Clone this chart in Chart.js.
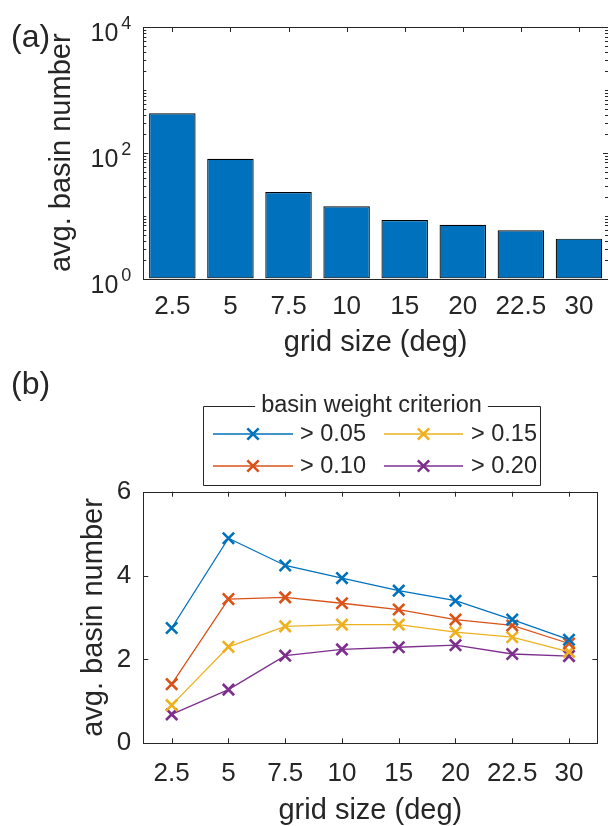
<!DOCTYPE html>
<html><head><meta charset="utf-8">
<script src="https://cdn.jsdelivr.net/npm/chart.js@4/dist/chart.umd.min.js"></script>
<style>
html,body{margin:0;padding:0;background:#fff;overflow:hidden;width:608px;height:826px;}
#a{position:absolute;left:0;top:0;width:608px;height:370px;}
#b{position:absolute;left:0;top:370px;width:608px;height:466px;}
canvas{display:block;}
</style></head><body>
<div id="a"><canvas id="ca" width="608" height="370"></canvas></div>
<div id="b"><canvas id="cb" width="608" height="466"></canvas></div>
<script>
// ---- data ----
const categories = ['2.5','5','7.5','10','15','20','22.5','30'];
const basinCounts = [423, 80.4, 23.8, 14.1, 8.5, 7.15, 5.83, 4.3];
const logTickExponents = [0, 2, 4];
const seriesLabels = ['> 0.05','> 0.10','> 0.15','> 0.20'];
const crit005 = [2.75, 4.89, 4.24, 3.94, 3.64, 3.40, 2.95, 2.47];
const crit010 = [1.41, 3.44, 3.48, 3.34, 3.19, 2.95, 2.81, 2.38];
const crit015 = [0.91, 2.30, 2.79, 2.83, 2.83, 2.65, 2.53, 2.18];
const crit020 = [0.69, 1.28, 2.09, 2.24, 2.29, 2.34, 2.13, 2.08];
const linearTicks = [0, 2, 4, 6];
const legendTitle = 'basin weight criterion';
const xTitle = 'grid size (deg)';
const yTitle = 'avg. basin number';
const colors = ['#0072BD', '#D95319', '#EDB120', '#7E2F8E'];

const AX = '#262626';
const FONT = "'Liberation Sans', Arial, Helvetica, sans-serif";
Chart.defaults.font.family = FONT;
Chart.defaults.color = AX;
Chart.defaults.animation = false;

function drawBox(ctx, ca) {
  ctx.save();
  ctx.strokeStyle = AX; ctx.lineWidth = 1;
  const l = Math.round(ca.left) + 0.5, t = Math.round(ca.top) + 0.5;
  const r = Math.round(ca.right) + 0.5, b = Math.round(ca.bottom) + 0.5;
  ctx.strokeRect(l, t, r - l, b - t);
  ctx.restore();
}
function hTick(ctx, x, y0, y1) { ctx.beginPath(); ctx.moveTo(Math.round(x)+0.5, y0); ctx.lineTo(Math.round(x)+0.5, y1); ctx.stroke(); }
function vTick(ctx, y, x0, x1) { ctx.beginPath(); ctx.moveTo(x0, Math.round(y)+0.5); ctx.lineTo(x1, Math.round(y)+0.5); ctx.stroke(); }

// ---- top chart ----
const topPlugin = {
  id: 'topDeco',
  afterDraw(chart) {
    const ctx = chart.ctx, ca = chart.chartArea;
    const xs = chart.scales.x, ys = chart.scales.y;
    drawBox(ctx, ca);
    ctx.save();
    ctx.strokeStyle = AX; ctx.lineWidth = 1;
    categories.forEach((c, i) => {
      const x = xs.getPixelForValue(i);
      hTick(ctx, x, ca.top, ca.top + 5);
    });
    for (let k = 0; k < 4; k++) {
      for (let m = 1; m <= 9; m++) {
        const v = m * Math.pow(10, k);
        const y = ys.getPixelForValue(v);
        const major = (m === 1 && k % 2 === 0);
        const len = major ? 5 : 3;
        vTick(ctx, y, ca.left, ca.left + len);
        vTick(ctx, y, ca.right - len, ca.right);
      }
    }
    // log tick labels 10^e
    ctx.fillStyle = AX;
    ctx.textBaseline = 'alphabetic';
    logTickExponents.forEach(e => {
      const y = ys.getPixelForValue(Math.pow(10, e));
      const sup = String(e);
      ctx.font = '18px ' + FONT;
      const sw = ctx.measureText(sup).width;
      const rightEdge = ca.left - 12;
      ctx.textAlign = 'right';
      ctx.fillText(sup, rightEdge, y + 2);
      ctx.font = '25px ' + FONT;
      ctx.fillText('10', rightEdge - sw - 3, y + 14);
    });
    // panel label
    ctx.font = '32px ' + FONT;
    ctx.textAlign = 'left';
    ctx.textBaseline = 'middle';
    ctx.fillText('(a)', 11, 38);
    ctx.restore();
  }
};

new Chart(document.getElementById('ca'), {
  type: 'bar',
  data: {
    labels: categories,
    datasets: [{
      data: basinCounts,
      backgroundColor: colors[0],
      borderColor: '#000000',
      borderWidth: 1.2,
      borderSkipped: false,
      barPercentage: 0.8,
      categoryPercentage: 1.0
    }]
  },
  options: {
    responsive: false,
    devicePixelRatio: 1,
    layout: { padding: { top: 27, left: 0, right: 0, bottom: 0 } },
    plugins: { legend: { display: false }, tooltip: { enabled: false } },
    scales: {
      x: {
        offset: true,
        grid: { display: false, drawTicks: false },
        border: { display: false },
        ticks: { font: { size: 26 }, padding: 13, color: AX, maxRotation: 0 },
        title: { display: true, text: xTitle, font: { size: 29 }, color: AX, padding: { top: 0, bottom: 10 } },
        afterFit(s) { s.height = 91.5; }
      },
      y: {
        type: 'logarithmic',
        min: 1, max: 10000,
        grid: { display: false, drawTicks: false },
        border: { display: false },
        ticks: { display: false },
        title: { display: true, text: yTitle, font: { size: 29 }, color: AX, padding: { top: 45, bottom: 0 } },
        afterFit(s) { s.width = 143.3; }
      }
    }
  },
  plugins: [topPlugin]
});

// ---- bottom chart ----
const series = [crit005, crit010, crit015, crit020];

const botPlugin = {
  id: 'botDeco',
  afterDraw(chart) {
    const ctx = chart.ctx, ca = chart.chartArea;
    const xs = chart.scales.x, ys = chart.scales.y;
    drawBox(ctx, ca);
    ctx.save();
    ctx.strokeStyle = AX; ctx.lineWidth = 1;
    categories.forEach((c, i) => {
      const x = xs.getPixelForValue(i);
      hTick(ctx, x, ca.top, ca.top + 5);
      hTick(ctx, x, ca.bottom - 5, ca.bottom);
    });
    linearTicks.forEach(v => {
      const y = ys.getPixelForValue(v);
      vTick(ctx, y, ca.left, ca.left + 5);
      vTick(ctx, y, ca.right - 5, ca.right);
    });
    // legend
    const bx0 = 203, bx1 = 540, by0 = 36, by1 = 115;
    ctx.font = '23.5px ' + FONT;
    const tw = ctx.measureText(legendTitle).width;
    const cx = (bx0 + bx1) / 2;
    ctx.fillStyle = '#ffffff';
    ctx.fillRect(bx0, by0, bx1 - bx0, by1 - by0);
    ctx.strokeStyle = AX;
    ctx.lineWidth = 1;
    ctx.beginPath();
    ctx.moveTo(cx - tw / 2 - 6, by0 + 0.5);
    ctx.lineTo(bx0 + 0.5, by0 + 0.5);
    ctx.lineTo(bx0 + 0.5, by1 + 0.5);
    ctx.lineTo(bx1 + 0.5, by1 + 0.5);
    ctx.lineTo(bx1 + 0.5, by0 + 0.5);
    ctx.lineTo(cx + tw / 2 + 6, by0 + 0.5);
    ctx.stroke();
    ctx.fillStyle = AX;
    ctx.textAlign = 'center';
    ctx.textBaseline = 'middle';
    ctx.fillText(legendTitle, cx, by0);
    const cols = [{ l0: 213, l1: 293, tx: 300 }, { l0: 384, l1: 463, tx: 471 }];
    const rows = [64, 96];
    chart.data.datasets.forEach((ds, i) => {
      const col = cols[Math.floor(i / 2)], y = rows[i % 2];
      ctx.strokeStyle = ds.borderColor;
      ctx.lineWidth = 1.3;
      ctx.beginPath(); ctx.moveTo(col.l0, y); ctx.lineTo(col.l1, y); ctx.stroke();
      const mx = (col.l0 + col.l1) / 2, r = 8 * Math.SQRT1_2;
      ctx.lineWidth = 2.6;
      ctx.beginPath();
      ctx.moveTo(mx - r, y - r); ctx.lineTo(mx + r, y + r);
      ctx.moveTo(mx - r, y + r); ctx.lineTo(mx + r, y - r);
      ctx.stroke();
      ctx.fillStyle = AX;
      ctx.textAlign = 'left';
      ctx.fillText(ds.label, col.tx, y + 1);
    });
    ctx.font = '32px ' + FONT;
    ctx.textAlign = 'left';
    ctx.textBaseline = 'middle';
    ctx.fillText('(b)', 11, 15);
    ctx.restore();
  }
};

new Chart(document.getElementById('cb'), {
  type: 'line',
  data: {
    labels: categories,
    datasets: series.map((s, i) => ({
      label: seriesLabels[i],
      data: s,
      borderColor: colors[i],
      backgroundColor: colors[i],
      borderWidth: 1.3,
      pointStyle: 'crossRot',
      pointRadius: 8,
      pointBorderWidth: 2.6,
      pointBorderColor: colors[i],
      fill: false,
      tension: 0
    }))
  },
  options: {
    responsive: false,
    devicePixelRatio: 1,
    layout: { padding: { top: 121.7, left: 0, right: 0, bottom: 0 } },
    plugins: { legend: { display: false }, tooltip: { enabled: false } },
    scales: {
      x: {
        offset: true,
        grid: { display: false, drawTicks: false },
        border: { display: false },
        ticks: { font: { size: 26 }, padding: 15, color: AX, maxRotation: 0 },
        title: { display: true, text: xTitle, font: { size: 29 }, color: AX, padding: { top: 0, bottom: 8 } },
        afterFit(s) { s.height = 466 - 373.3; }
      },
      y: {
        min: 0, max: 6,
        grid: { display: false, drawTicks: false },
        border: { display: false },
        ticks: { stepSize: 2, font: { size: 26 }, padding: 12, color: AX },
        title: { display: true, text: yTitle, font: { size: 29 }, color: AX, padding: { top: 77, bottom: 0 } },
        afterFit(s) { s.width = 143.3; }
      }
    }
  },
  plugins: [botPlugin]
});
</script>
</body></html>
